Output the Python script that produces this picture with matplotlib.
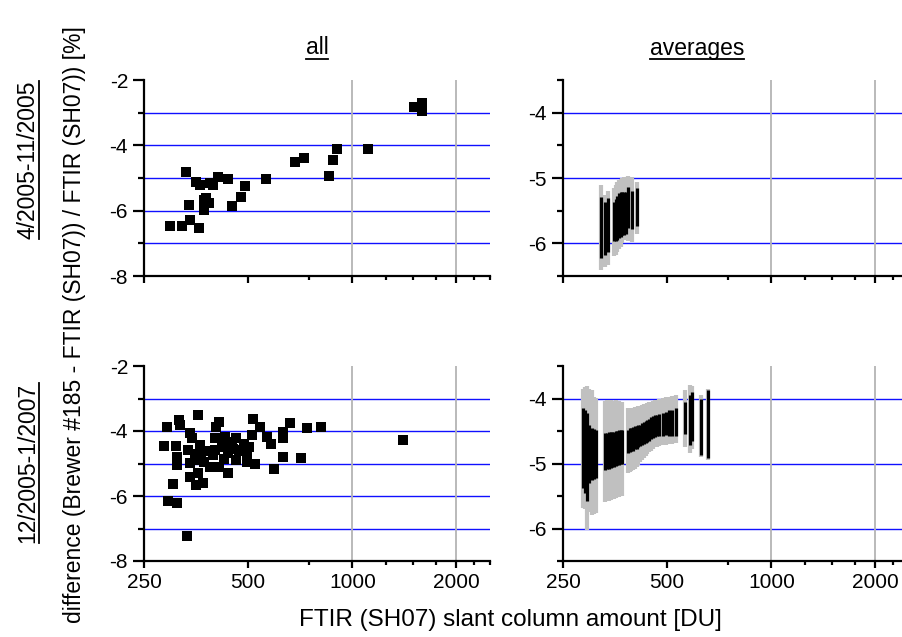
"""Brewer #185 vs FTIR (SH07) relative differences against slant column.
"""

import matplotlib
matplotlib.use('Agg')
import matplotlib.pyplot as plt
from matplotlib.ticker import FixedLocator, NullFormatter, FixedFormatter
from matplotlib.lines import Line2D

plt.rcParams['font.family'] = ['Liberation Sans', 'DejaVu Sans']
plt.rcParams['axes.unicode_minus'] = False

# ---- single measurements, 4/2005-11/2005
x_all_1 = [297, 323, 340, 361, 330, 337, 354, 363, 389, 397, 410, 436, 372, 385,
           372, 377, 450, 476, 491, 563, 683, 727, 856, 880, 904, 1112, 1511,
           1593, 1593]
y_all_1 = [-6.46, -6.46, -6.29, -6.54, -4.83, -5.84, -5.11, -5.21, -5.16, -5.22,
           -4.96, -5.03, -5.67, -5.77, -5.98, -5.60, -5.86, -5.57, -5.24, -5.04,
           -4.50, -4.38, -4.94, -4.46, -4.12, -4.12, -2.82, -2.71, -2.94]

# ---- single measurements, 12/2005-1/2007
x_all_2 = [292, 286, 294, 311, 303, 315, 317, 309, 312, 311, 332, 359, 340, 343,
           336, 340, 340, 354, 369, 359, 363, 366, 356, 389, 405, 413, 401, 401,
           413, 429, 438, 441, 460, 460, 438, 474, 496, 496, 516, 512, 504, 525,
           541, 566, 584, 593, 629, 629, 632, 661, 710, 742, 811, 1405, 380, 395,
           420, 448, 470, 372, 452, 485, 350, 425]
y_all_2 = [-3.89, -4.46, -6.15, -6.22, -5.64, -3.66, -3.82, -4.46, -4.79, -5.05,
           -7.23, -3.51, -4.05, -4.22, -4.58, -4.99, -5.40, -5.66, -5.61, -5.30,
           -4.43, -4.69, -4.89, -5.10, -3.87, -3.71, -4.22, -4.58, -5.10, -4.17,
           -4.69, -4.38, -4.22, -4.89, -5.30, -4.58, -4.79, -4.94, -3.63, -4.12,
           -4.48, -5.02, -3.89, -4.17, -4.41, -5.18, -4.02, -4.22, -4.81, -3.76,
           -4.84, -3.92, -3.89, -4.28, -4.60, -4.75, -4.50, -4.35, -4.62, -4.95,
           -4.55, -4.40, -4.70, -4.85]

# ---- averages, 4/2005-11/2005 (black = inner range, grey = outer range)
x_avg_1 = [323, 331, 338, 351, 355, 359, 363, 367, 371, 375, 379, 385, 397, 410]
blk_hi_1 = [-5.29, -5.36, -5.31, -5.36, -5.32, -5.28, -5.23, -5.22, -5.21, -5.21,
            -5.22, -5.14, -5.20, -5.16]
blk_lo_1 = [-6.23, -6.18, -6.13, -5.97, -5.97, -5.95, -5.92, -5.90, -5.88, -5.87,
            -5.85, -5.77, -5.78, -5.73]
gry_hi_1 = [-5.11, -5.26, -5.20, -5.15, -5.10, -5.06, -5.03, -5.01, -5.00, -4.99,
            -4.99, -4.97, -4.98, -5.06]
gry_lo_1 = [-6.41, -6.36, -6.33, -6.20, -6.18, -6.14, -6.08, -6.05, -6.00, -5.95,
            -5.90, -5.97, -5.98, -5.85]

# ---- averages, 12/2005-1/2007
x_avg_2 = [285, 289, 294, 298, 303, 308, 312,
           331, 335, 339, 343, 347, 351, 355, 359, 363, 367, 371,
           386, 390, 394, 399, 403, 408, 413, 418, 423, 428, 433, 438, 443, 449,
           455, 461, 467,
           475, 485, 495, 505, 518, 530, 562, 583, 590, 626, 658]
blk_hi_2 = [-4.15, -4.17, -4.23, -4.40, -4.45, -4.47, -4.49,
            -4.53, -4.53, -4.52, -4.52, -4.51, -4.51, -4.50, -4.50, -4.49, -4.49,
            -4.48,
            -4.48, -4.46, -4.45, -4.44, -4.43, -4.42, -4.41, -4.40, -4.38, -4.36,
            -4.34, -4.33, -4.31, -4.29, -4.27, -4.26, -4.25,
            -4.24, -4.22, -4.20, -4.18, -4.17, -4.15, -4.05, -3.95, -3.90, -4.00,
            -3.87]
blk_lo_2 = [-5.38, -5.45, -5.58, -5.30, -5.25, -5.24, -5.22,
            -5.10, -5.09, -5.08, -5.07, -5.06, -5.05, -5.04, -5.03, -5.02, -5.01,
            -5.00,
            -4.84, -4.82, -4.81, -4.80, -4.78, -4.77, -4.75, -4.73, -4.71, -4.70,
            -4.68, -4.67, -4.65, -4.63, -4.61, -4.59, -4.58,
            -4.58, -4.57, -4.56, -4.57, -4.57, -4.58, -4.54, -4.72, -4.65, -4.87,
            -4.92]
gry_hi_2 = [-3.86, -3.83, -3.81, -3.85, -3.87, -3.97, -3.99,
            -4.04, -4.03, -4.04, -4.03, -4.04, -4.04, -4.03, -4.04, -4.04, -4.05,
            -4.05,
            -4.15, -4.15, -4.14, -4.14, -4.13, -4.13, -4.12, -4.12, -4.10, -4.09,
            -4.08, -4.07, -4.06, -4.05, -4.04, -4.03, -4.02,
            -4.00, -3.99, -3.98, -3.97, -3.96, -3.95, -3.87, -3.79, -3.80, -3.95,
            -3.85]
gry_lo_2 = [-5.69, -5.70, -6.02, -5.75, -5.79, -5.77, -5.76,
            -5.59, -5.58, -5.57, -5.56, -5.55, -5.54, -5.53, -5.52, -5.51, -5.50,
            -5.50,
            -5.15, -5.13, -5.12, -5.10, -5.08, -5.05, -5.02, -4.98, -4.95, -4.92,
            -4.89, -4.86, -4.83, -4.80, -4.77, -4.75, -4.74,
            -4.73, -4.72, -4.71, -4.70, -4.70, -4.68, -4.74, -4.84, -4.78, -4.90,
            -4.95]

x_major = [250, 500, 1000, 2000]
x_minor = [750, 1250, 1500, 1750, 2250, 2500]
x_ticklabels = ['250', '500', '1000', '2000']


def style_axis(ax, ylim, y_major, y_minor, hlines, xlabels):
    ax.set_xscale('log')
    ax.set_xlim(250, 2500)
    ax.set_ylim(*ylim)
    for s in ['top', 'right']:
        ax.spines[s].set_visible(False)
    for s in ['left', 'bottom']:
        ax.spines[s].set_linewidth(1.6)
    ax.xaxis.set_major_locator(FixedLocator(x_major))
    ax.xaxis.set_minor_locator(FixedLocator(x_minor))
    ax.xaxis.set_minor_formatter(NullFormatter())
    if xlabels:
        ax.xaxis.set_major_formatter(FixedFormatter(x_ticklabels))
    else:
        ax.xaxis.set_major_formatter(NullFormatter())
    ax.yaxis.set_major_locator(FixedLocator(y_major))
    ax.yaxis.set_minor_locator(FixedLocator(y_minor))
    ax.yaxis.set_major_formatter(FixedFormatter([str(v) for v in y_major]))
    ax.tick_params(axis='both', which='both', direction='out', width=1.6,
                   labelsize=15, colors='black')
    ax.tick_params(axis='x', which='major', length=5, pad=4)
    ax.tick_params(axis='x', which='minor', length=3)
    ax.tick_params(axis='y', which='major', length=8, pad=3.5)
    ax.tick_params(axis='y', which='minor', length=4)
    for v in hlines:
        ax.axhline(v, color='#1010ff', lw=1.0, zorder=1)
    for v in [1000, 2000]:
        ax.axvline(v, color='#b4b4b4', lw=1.3, zorder=1)


def draw_averages(ax, x, blo, bhi, glo, ghi):
    ax.vlines(x, glo, ghi, color='#c0c0c0', lw=3.0, zorder=2)
    ax.vlines(x, blo, bhi, color='black', lw=2.3, zorder=3)


W, H = 902, 637
fig = plt.figure(figsize=(W / 100, H / 100), dpi=100)

def pos(left, top, right, bottom):
    return [left / W, 1 - bottom / H, (right - left) / W, (bottom - top) / H]

ax_tl = fig.add_axes(pos(144, 80, 490, 276))
ax_bl = fig.add_axes(pos(144, 366, 490, 561))
ax_tr = fig.add_axes(pos(563, 80, 909, 276))
ax_br = fig.add_axes(pos(563, 366, 909, 561))

left_major = [-8, -6, -4, -2]
left_minor = [-7, -5, -3]
right_major = [-6, -5, -4]
right_minor = [-6.5, -5.5, -4.5, -3.5]

style_axis(ax_tl, (-8, -2), left_major, left_minor, [-7, -6, -5, -4, -3], False)
style_axis(ax_bl, (-8, -2), left_major, left_minor, [-7, -6, -5, -4, -3], True)
style_axis(ax_tr, (-6.5, -3.5), right_major, right_minor, [-6, -5, -4], False)
style_axis(ax_br, (-6.5, -3.5), right_major, right_minor, [-6, -5, -4], True)

ax_tl.scatter(x_all_1, y_all_1, marker='s', s=58, color='black', lw=0, zorder=3)
ax_bl.scatter(x_all_2, y_all_2, marker='s', s=58, color='black', lw=0, zorder=3)
draw_averages(ax_tr, x_avg_1, blk_lo_1, blk_hi_1, gry_lo_1, gry_hi_1)
draw_averages(ax_br, x_avg_2, blk_lo_2, blk_hi_2, gry_lo_2, gry_hi_2)

# titles and labels (figure pixel positions)
fs = 16.5
t_all = fig.text(317 / W, 1 - 48 / H, 'all', ha='center', va='center', fontsize=fs)
t_avg = fig.text(697 / W, 1 - 48 / H, 'averages', ha='center', va='center', fontsize=fs)
t_r1 = fig.text(28 / W, 1 - 160 / H, '4/2005-11/2005', rotation=90,
                ha='center', va='center', fontsize=fs)
t_r2 = fig.text(28 / W, 1 - 463 / H, '12/2005-1/2007', rotation=90,
                ha='center', va='center', fontsize=fs)
fig.text(75 / W, 1 - 325 / H,
         'difference (Brewer #185 - FTIR (SH07)) / FTIR (SH07)) [%]',
         rotation=90, ha='center', va='center', fontsize=fs)
fig.text(510 / W, 1 - 620 / H, 'FTIR (SH07) slant column amount [DU]',
         ha='center', va='center', fontsize=17.5)

# underline the panel titles and row labels
fig.canvas.draw()
r = fig.canvas.get_renderer()
inv = fig.transFigure.inverted()
for t in [t_all, t_avg]:
    bb = t.get_window_extent(r)
    (x0, y0), (x1, y1) = inv.transform([(bb.x0, bb.y0 + 1), (bb.x1, bb.y0 + 1)])
    fig.add_artist(Line2D([x0, x1], [y0, y1], color='black', lw=1.3))
for t in [t_r1, t_r2]:
    bb = t.get_window_extent(r)
    (x0, y0), (x1, y1) = inv.transform([(bb.x1 - 1, bb.y0), (bb.x1 - 1, bb.y1)])
    fig.add_artist(Line2D([x0, x1], [y0, y1], color='black', lw=1.3))

fig.savefig('out.png', dpi=100)
